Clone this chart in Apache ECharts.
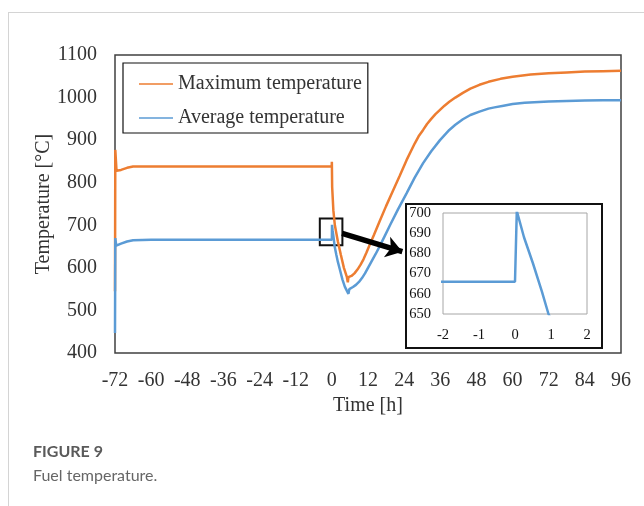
<!DOCTYPE html>
<html>
<head>
<meta charset="utf-8">
<script src="https://cdn.jsdelivr.net/npm/echarts@6/dist/echarts.min.js"></script>
<style>
  html, body { margin: 0; padding: 0; background: #fff; }
  #chart { width: 644px; height: 506px; }
</style>
</head>
<body>
<div id="chart"></div>
<script>
// Fuel temperature over the transient, hours relative to the event at t = 0
const seriesNames = ['Maximum temperature', 'Average temperature'];

const maxTime = [-72, -71.9, -71.5, -71, -70, -68, -66, -60, -0.05, 0, 0.1, 0.5, 1, 2, 3, 4, 5, 5.3, 5.5,
  6.5, 7.5, 8.5, 9.5, 10.5, 11.5, 12.6, 14, 15.9, 18, 20.4, 22.5, 24.8, 27.5, 28.8, 30.3, 31.6, 33, 34.4, 35.9,
  37.4, 39, 41, 43.5, 46, 49, 52, 56, 60, 66, 72, 78, 84, 90, 96];
const maxTemp = [545, 877, 828, 826, 830, 835, 838, 838, 838, 849, 790, 735, 700, 662, 630, 600, 578, 566, 578,
  581, 587, 596, 607, 620, 636, 655, 678, 710, 745, 783, 816, 853, 892, 909, 924, 938, 950, 961, 971,
  981, 990, 1000, 1011, 1021, 1030, 1037, 1044, 1049, 1054, 1057, 1059, 1061, 1062, 1063];

const avgTime = [-72, -71.9, -71.6, -71, -70, -68, -66, -60, 0, 0.05, 0.25, 0.5, 0.75, 0.93, 1.5, 2, 2.7, 3.5, 4.3, 5,
  5.5, 5.8, 7, 8, 9, 10, 11, 12, 13, 14.5, 15.9, 17.5, 19.3, 22, 24.8, 27.5, 30.3, 33, 35.9, 39, 41, 43.5, 46, 49,
  52, 54, 57, 60, 64, 72, 78, 84, 90, 96];
const avgTemp = [447, 670, 652, 652, 657, 662, 665, 666, 666, 701, 688, 675, 661, 650, 630, 614, 595, 573, 556, 546,
  539, 550, 555, 560, 567, 576, 587, 600, 613, 632, 651, 674, 700, 738, 775, 812, 846, 874, 900, 924, 936, 949, 959, 967,
  974, 977, 981, 985, 988, 991, 992, 993, 993.5, 994];

// axis ranges: main view and the zoomed view around t = 0
const mainX = [-72, 96, 12];
const mainY = [400, 1100, 100];
const zoomX = [-2, 2, 1];
const zoomY = [650, 700, 10];

// highlighted window on the main plot and the pointer to the zoomed view
const zoomWindow = [[-4, 653], [3.5, 716]];
const pointer = [[3.4, 681], [23.4, 638]];

const pairs = (xs, ys) => xs.map((x, i) => [x, ys[i]]);
const plain = v => String(v);

const serif = 'Liberation Serif';
const ORANGE = '#ED7D31';
const BLUE = '#5B9BD5';
const TEXT = '#333';

const chart = echarts.init(document.getElementById('chart'), null, { renderer: 'canvas' });

chart.setOption({
  animation: false,
  backgroundColor: '#fff',
  title: [
    { text: 'FIGURE 9', left: 33, top: 444, padding: 0,
      textStyle: { fontFamily: 'Lato', fontWeight: 'bold', fontSize: 16, color: '#5a5a5a' } },
    { text: 'Fuel temperature.', left: 33, top: 468, padding: 0,
      textStyle: { fontFamily: 'Lato', fontWeight: 'normal', fontSize: 16, color: '#666' } }
  ],
  legend: {
    data: seriesNames,
    orient: 'vertical',
    left: 123, top: 63,
    padding: [11, 6, 5, 16],
    itemGap: 14,
    itemWidth: 34,
    itemHeight: 2.5,
    icon: 'path://M0,0H20V1H0Z',
    borderColor: '#111',
    borderWidth: 1.2,
    backgroundColor: '#fff',
    textStyle: { fontFamily: serif, fontSize: 20, color: TEXT }
  },
  graphic: [
    { type: 'line', z: -5, shape: { x1: 8, y1: 12.5, x2: 644, y2: 12.5 }, style: { stroke: '#d4d4d4', lineWidth: 1 } },
    { type: 'line', z: -5, shape: { x1: 8.5, y1: 12, x2: 8.5, y2: 506 }, style: { stroke: '#d4d4d4', lineWidth: 1 } },
    { type: 'rect', z: -1, shape: { x: 406, y: 204, width: 196, height: 144 },
      style: { fill: '#fff', stroke: '#111', lineWidth: 2 } }
  ],
  grid: [
    { left: 115, top: 55, right: 23, bottom: 153, show: true, borderColor: '#404040', borderWidth: 1.5,
      backgroundColor: 'transparent' },
    { left: 443, top: 213, width: 144, height: 101, show: true, borderColor: '#a6a6a6', borderWidth: 1,
      backgroundColor: '#fff', z: 3 }
  ],
  xAxis: [
    { type: 'value', gridIndex: 0, min: mainX[0], max: mainX[1], interval: mainX[2],
      name: 'Time [h]', nameLocation: 'middle', nameGap: 43, nameMoveOverlap: false,
      nameTextStyle: { fontFamily: serif, fontSize: 20, color: TEXT },
      axisLine: { show: false }, axisTick: { show: false }, splitLine: { show: false },
      axisLabel: { fontFamily: serif, fontSize: 20, color: TEXT, margin: 18, formatter: plain } },
    { type: 'value', gridIndex: 1, min: zoomX[0], max: zoomX[1], interval: zoomX[2], z: 4,
      axisLine: { show: false }, axisTick: { show: false }, splitLine: { show: false },
      axisLabel: { fontFamily: serif, fontSize: 14.5, color: '#111', margin: 14, formatter: plain } }
  ],
  yAxis: [
    { type: 'value', gridIndex: 0, min: mainY[0], max: mainY[1], interval: mainY[2],
      name: 'Temperature [°C]', nameLocation: 'middle', nameGap: 61, nameMoveOverlap: false,
      nameTextStyle: { fontFamily: serif, fontSize: 20, color: TEXT },
      axisLine: { show: false }, axisTick: { show: false }, splitLine: { show: false },
      axisLabel: { fontFamily: serif, fontSize: 20, color: TEXT, margin: 18, formatter: plain } },
    { type: 'value', gridIndex: 1, min: zoomY[0], max: zoomY[1], interval: zoomY[2], z: 4,
      axisLine: { show: false }, axisTick: { show: false }, splitLine: { show: false },
      axisLabel: { fontFamily: serif, fontSize: 14.5, color: '#111', margin: 12, formatter: plain } }
  ],
  series: [
    { name: seriesNames[0], type: 'line', xAxisIndex: 0, yAxisIndex: 0,
      data: pairs(maxTime, maxTemp), symbol: 'none',
      lineStyle: { color: ORANGE, width: 2.5 }, itemStyle: { color: ORANGE } },
    { name: seriesNames[1], type: 'line', xAxisIndex: 0, yAxisIndex: 0,
      data: pairs(avgTime, avgTemp), symbol: 'none',
      lineStyle: { color: BLUE, width: 2.5 }, itemStyle: { color: BLUE },
      markArea: {
        silent: true,
        itemStyle: { color: 'rgba(0,0,0,0)', borderColor: '#111', borderWidth: 2 },
        data: [[{ coord: zoomWindow[0] }, { coord: zoomWindow[1] }]]
      },
      markLine: {
        silent: true,
        symbol: ['none', 'arrow'],
        symbolSize: [16, 16],
        label: { show: false },
        lineStyle: { color: '#000', width: 5.5, type: 'solid' },
        data: [[{ coord: pointer[0] }, { coord: pointer[1] }]]
      } },
    { name: seriesNames[1], type: 'line', xAxisIndex: 1, yAxisIndex: 1, z: 5,
      data: pairs(avgTime, avgTemp), symbol: 'none', clip: true,
      lineStyle: { color: BLUE, width: 2.5 }, itemStyle: { color: BLUE } }
  ]
});
</script>
</body>
</html>
